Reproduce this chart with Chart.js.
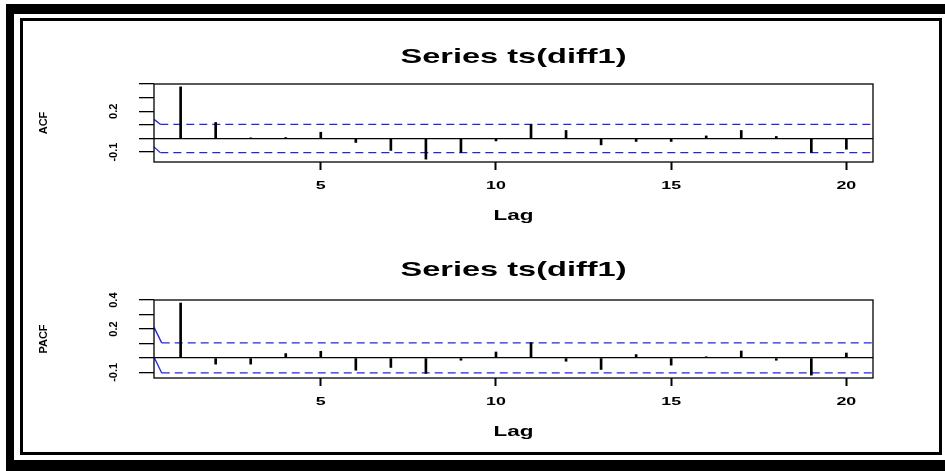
<!DOCTYPE html>
<html>
<head>
<meta charset="utf-8">
<script src="https://cdn.jsdelivr.net/npm/chart.js@4/dist/chart.umd.min.js"></script>
<style>
  html, body { margin: 0; padding: 0; background: #fff; }
  body { width: 945px; height: 471px; position: relative; overflow: hidden; }
  #outer { position: absolute; left: 6px; top: 4px; width: 960px; height: 446px;
           border-top: 10px solid #000; border-left: 8px solid #000; border-bottom: 11px solid #000; }
  #inner { position: absolute; left: 20px; top: 18px; width: 916px; height: 431px; border: 3px solid #000; }
  canvas { position: absolute; left: 0; }
  #acf { top: 0; }
  #pacf { top: 236px; }
</style>
</head>
<body>
<div id="outer"></div>
<div id="inner"></div>
<canvas id="acf" width="945" height="236"></canvas>
<canvas id="pacf" width="945" height="220"></canvas>
<script>
// Correlogram of the differenced series, lags 1..20
const lags = [1, 2, 3, 4, 5, 6, 7, 8, 9, 10, 11, 12, 13, 14, 15, 16, 17, 18, 19, 20];
const acfValues = [0.38, 0.118, 0.003, 0.007, 0.046, -0.029, -0.088, -0.152, -0.103, -0.018,
                   0.103, 0.059, -0.047, -0.022, -0.022, 0.019, 0.059, 0.015, -0.103, -0.079];
const pacfValues = [0.38, -0.043, -0.043, 0.030, 0.046, -0.085, -0.066, -0.107, -0.016, 0.041,
                    0.106, -0.023, -0.080, 0.023, -0.050, 0.008, 0.048, -0.016, -0.119, 0.034];

// approximate 95% band (+/- 2/sqrt(n))
const confLimit = 0.104;

// axis limits
const lagRange = [0.24, 20.76];
const acfRange = [-0.173, 0.401];
const pacfRange = [-0.139, 0.401];

// labelled ticks
const lagTicks = [5, 10, 15, 20];
const acfTickLabels = [0.2, -0.1];
const pacfTickLabels = [0.4, 0.2, -0.1];

// where each band line starts at the left edge: [upper, lower], and the lag where it joins the band
const acfBandStart = [0.141, -0.062];
const acfBandJoin = 0.42;
const pacfBandStart = [0.213, 0.007];
const pacfBandJoin = 0.46;

const panelTitle = 'Series ts(diff1)';

const FAMILY = "'Liberation Sans', Arial, Helvetica, sans-serif";

// The page is laid out wide: horizontal text is drawn widened about its anchor point.
const TEXT_STRETCH = 1.55;
function widenHorizontalText(canvas) {
  const ctx = canvas.getContext('2d');
  const fill = ctx.fillText;
  ctx.fillText = function (text, x, y, maxWidth) {
    const t = this.getTransform();
    if (t.b !== 0 || t.c !== 0) {
      return maxWidth === undefined ? fill.call(this, text, x, y) : fill.call(this, text, x, y, maxWidth);
    }
    const px = t.a * x + t.e;
    this.save();
    this.setTransform(t.a * TEXT_STRETCH, 0, 0, t.d, TEXT_STRETCH * t.e + (1 - TEXT_STRETCH) * px, t.f);
    if (maxWidth === undefined) fill.call(this, text, x, y);
    else fill.call(this, text, x, y, maxWidth);
    this.restore();
  };
}

// box round the plotting region
const frameBox = {
  id: 'frameBox',
  afterDraw(chart) {
    const { ctx, chartArea: a } = chart;
    ctx.save();
    ctx.strokeStyle = '#000';
    ctx.lineWidth = 1.3;
    ctx.strokeRect(a.left, a.top, a.right - a.left, a.bottom - a.top);
    ctx.restore();
  }
};

function bandLine(startY, limit, join) {
  return {
    type: 'line',
    data: [{ x: lagRange[0], y: startY }, { x: join, y: limit }, { x: lagRange[1], y: limit }],
    borderColor: '#2424e8',
    borderWidth: 1.3,
    pointRadius: 0,
    fill: false,
    tension: 0,
    segment: { borderDash: c => (c.p0DataIndex === 0 ? [] : [8, 5]) }
  };
}

function makePanel(id, opt) {
  const canvas = document.getElementById(id);
  widenHorizontalText(canvas);
  return new Chart(canvas, {
    type: 'bar',
    data: {
      datasets: [
        {
          type: 'bar',
          data: lags.map((l, i) => ({ x: l, y: opt.values[i] })),
          backgroundColor: '#000',
          borderWidth: 0,
          barThickness: 2
        },
        bandLine(opt.bandStart[0], confLimit, opt.bandJoin),
        bandLine(opt.bandStart[1], -confLimit, opt.bandJoin)
      ]
    },
    options: {
      responsive: false,
      animation: false,
      devicePixelRatio: 1,
      layout: { padding: { left: 36, right: 72, top: 0, bottom: opt.padBottom } },
      plugins: {
        legend: { display: false },
        tooltip: { enabled: false },
        title: {
          display: true,
          text: panelTitle,
          fullSize: false,
          color: '#000',
          font: { family: FAMILY, size: 21, weight: 'bold', lineHeight: 1.2 },
          padding: { top: opt.titleTop, bottom: opt.titleBottom }
        }
      },
      scales: {
        x: {
          type: 'linear',
          min: lagRange[0],
          max: lagRange[1],
          offset: false,
          border: { display: false },
          grid: { display: true, drawOnChartArea: false, drawTicks: true, tickLength: 8,
                  tickWidth: 2, tickColor: '#000', offset: false },
          ticks: {
            stepSize: 5, includeBounds: false, autoSkip: false, minRotation: 0, maxRotation: 0,
            padding: 9, color: '#000',
            font: { family: FAMILY, size: 11.5, weight: 'bold' },
            callback: v => (lagTicks.includes(v) ? String(v) : '')
          },
          title: {
            display: true, text: 'Lag', color: '#000',
            font: { family: FAMILY, size: 14.5, weight: 'bold', lineHeight: 1.2 },
            padding: { top: 0, bottom: 7 }
          },
          afterFit: s => { s.height = 70; }
        },
        y: {
          type: 'linear',
          min: opt.range[0],
          max: opt.range[1],
          border: { display: false },
          grid: {
            color: c => (c.tick && Math.abs(c.tick.value) < 1e-9 ? '#000' : 'rgba(0,0,0,0)'),
            lineWidth: 1.3, drawTicks: true, tickLength: 15, tickWidth: 1.3, tickColor: '#000'
          },
          ticks: {
            stepSize: 0.1, includeBounds: false, autoSkip: false,
            minRotation: 90, maxRotation: 90, crossAlign: 'center', padding: 15.5,
            color: '#000',
            font: { family: FAMILY, size: 11, weight: 'bold' },
            callback: v => (opt.tickLabels.some(t => Math.abs(t - v) < 1e-9) ? v.toFixed(1) : '')
          },
          title: {
            display: true, text: opt.yTitle, color: '#000',
            font: { family: FAMILY, size: 11, weight: 'bold', lineHeight: 1.2 },
            padding: { top: 1, bottom: 0 }
          },
          afterFit: s => { s.width = 118; }
        }
      }
    },
    plugins: [frameBox]
  });
}

makePanel('acf', {
  values: acfValues, range: acfRange, tickLabels: acfTickLabels, yTitle: 'ACF',
  bandStart: acfBandStart, bandJoin: acfBandJoin,
  titleTop: 44.4, titleBottom: 14.4, padBottom: 4
});

makePanel('pacf', {
  values: pacfValues, range: pacfRange, tickLabels: pacfTickLabels, yTitle: 'PACF',
  bandStart: pacfBandStart, bandJoin: pacfBandJoin,
  titleTop: 21.4, titleBottom: 17.4, padBottom: 8
});
</script>
</body>
</html>
